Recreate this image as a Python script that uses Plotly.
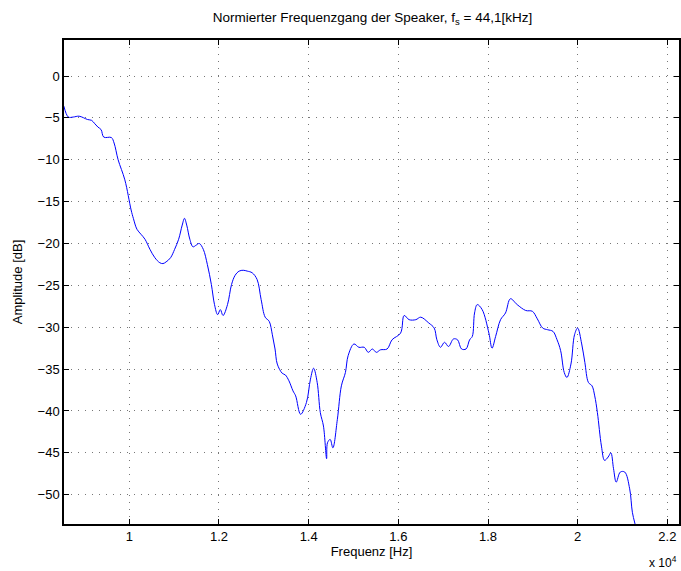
import plotly.graph_objects as go

# frequency [Hz] and normalised amplitude [dB]
freq = [8540, 8640, 8750, 8880, 9070, 9160, 9230, 9300, 9370, 9430, 9600,
        9660, 9750, 9900, 10040, 10090, 10170, 10260, 10350, 10460, 10570,
        10680, 10750, 10820, 10920, 11010, 11100, 11180, 11230, 11280,
        11350, 11420, 11490, 11560, 11650, 11740, 11830, 11900, 11970,
        12030, 12090, 12190, 12280, 12360, 12450, 12540, 12630, 12740,
        12850, 12940, 13030, 13120, 13190, 13250, 13300, 13410, 13480,
        13560, 13650, 13710, 13820, 13950, 14040, 14110, 14190, 14260,
        14330, 14400, 14420, 14480, 14540, 14640, 14730, 14820, 14880,
        15010, 15120, 15240, 15330, 15420, 15510, 15600, 15750, 15860,
        16050, 16130, 16240, 16390, 16500, 16680, 16800, 16860, 16940,
        17030, 17120, 17230, 17320, 17410, 17510, 17590, 17650, 17700,
        17760, 17870, 18020, 18090, 18170, 18280, 18390, 18500, 18650,
        18840, 18990, 19100, 19220, 19330, 19450, 19540, 19620, 19700,
        19760, 19850, 19930, 20000, 20090, 20160, 20240, 20320, 20380,
        20440, 20530, 20600, 20680, 20740, 20800, 20860, 20950, 21050,
        21160, 21220, 21280]
amp = [-3.6, -4.9, -4.9, -4.8, -5.2, -5.3, -5.7, -6.1, -6.4, -7.3, -7.35,
       -8.0, -10.0, -12.4, -16.0, -17.0, -18.3, -18.9, -19.5, -20.7, -21.7,
       -22.3, -22.4, -22.2, -21.7, -20.7, -19.5, -17.8, -17.0, -17.8,
       -19.5, -20.4, -20.2, -20.0, -20.7, -22.5, -24.9, -27.3, -28.5,
       -27.9, -28.6, -27.3, -24.9, -23.8, -23.3, -23.2, -23.3, -23.5,
       -24.3, -26.7, -28.8, -29.3, -30.9, -32.6, -34.4, -35.5, -35.7,
       -36.4, -37.6, -38.2, -40.4, -39.0, -36.2, -34.9, -36.6, -40.2,
       -41.8, -45.7, -43.8, -43.4, -44.4, -41.0, -37.0, -35.4, -33.4,
       -32.0, -32.4, -32.4, -33.0, -32.6, -33.0, -32.7, -32.6, -31.5,
       -30.7, -28.6, -29.1, -29.1, -28.8, -29.5, -30.1, -31.5, -32.4,
       -31.8, -32.3, -31.4, -31.5, -32.6, -32.6, -31.5, -31.1, -28.3,
       -27.3, -27.9, -30.7, -32.5, -31.1, -29.1, -28.3, -26.6, -27.3,
       -28.0, -28.1, -29.0, -30.1, -30.3, -30.5, -31.5, -32.8, -35.4,
       -36.0, -34.4, -30.9, -30.1, -32.0, -34.2, -36.6, -37.0, -38.2,
       -40.2, -44.2, -45.9, -45.5, -45.0, -46.9, -48.5, -47.3, -47.3,
       -49.3, -52.1, -53.5, -56.0]

xticks = [10000, 12000, 14000, 16000, 18000, 20000, 22000]
xtick_text = ["1", "1.2", "1.4", "1.6", "1.8", "2", "2.2"]
yticks = [0, -5, -10, -15, -20, -25, -30, -35, -40, -45, -50]

fnt = "Liberation Sans, Arial, sans-serif"

fig = go.Figure()
fig.add_trace(go.Scatter(x=freq, y=amp, mode="lines", line=dict(color="#0000ff", width=1),
                         line_shape="spline", showlegend=False))

axis_style = dict(showline=True, linecolor="black", linewidth=1.5, mirror="ticks",
                  ticks="inside", ticklen=5, tickcolor="black", tickwidth=1,
                  showgrid=True, gridcolor="#777777", gridwidth=1, griddash="1px,6px",
                  zeroline=False, automargin=False,
                  tickfont=dict(family=fnt, size=13, color="black"))

fig.update_xaxes(range=[8543, 22260], tickvals=xticks, ticktext=xtick_text,
                 title=dict(text="Frequenz [Hz]", font=dict(family=fnt, size=13, color="black"), standoff=4),
                 **axis_style)
fig.update_yaxes(range=[-53.5, 4.3], tickvals=yticks,
                 title=dict(text="Amplitude [dB]", font=dict(family=fnt, size=13, color="black"), standoff=12),
                 **axis_style)

fig.add_annotation(text="x 10<sup>4</sup>", xref="paper", yref="paper", x=1.0, y=-0.078,
                   xanchor="right", yanchor="middle", showarrow=False,
                   font=dict(family=fnt, size=12, color="black"))

fig.update_layout(
    width=681, height=571,
    margin=dict(l=64, r=2, t=40, b=47),
    paper_bgcolor="white", plot_bgcolor="white",
    title=dict(text="Normierter Frequenzgang der Speaker, f<sub>s</sub> = 44,1[kHz]",
               x=0.547, xanchor="center", y=0.97, yanchor="middle",
               font=dict(family=fnt, size=13.5, color="black")),
)

fig.write_html("out.html", config={"displayModeBar": False},
               post_script="document.body.style.margin='0px';")
